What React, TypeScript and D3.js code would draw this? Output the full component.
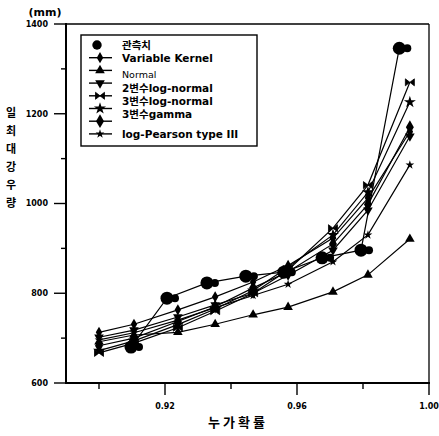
import React from "react";
import * as d3 from "d3";

// cumulative probabilities of the model points
const probs = [0.9, 0.9106, 0.9239, 0.9352, 0.9467, 0.9573, 0.9709, 0.9815, 0.9942];
// observed points
const obsProbs = [0.9097, 0.9206, 0.9327, 0.9445, 0.956, 0.9676, 0.9794, 0.991];
const observed = [680, 789, 823, 838, 847, 879, 896, 1346];

const variableKernel = [713, 731, 763, 792, 825, 862, 923, 1012, 1160];
const normal = [692, 707, 713, 731, 752, 769, 803, 841, 921];
const logNormal2 = [702, 718, 747, 774, 800, 840, 896, 985, 1150];
const logNormal3 = [667, 689, 723, 760, 800, 852, 945, 1041, 1270];
const gamma3 = [672, 694, 730, 765, 806, 858, 930, 1025, 1226];
const extraDiamond = [683, 700, 737, 770, 812, 848, 910, 998, 1170];
const logPearson3 = [696, 712, 740, 768, 795, 820, 870, 930, 1086];

const legendLabels = [
  "관측치",
  "Variable Kernel",
  "Normal",
  "2변수log-normal",
  "3변수log-normal",
  "3변수gamma",
  "",
  "log-Pearson type III",
];

const yTicks = [600, 700, 800, 900, 1000, 1100, 1200, 1300, 1400];
const yLabeled = [600, 800, 1000, 1200, 1400];
const xTicks = [0.9, 0.92, 0.94, 0.96, 0.98, 1.0];
const xLabeled = [0.92, 0.96, 1.0];
const yTitle = ["일", "최", "대", "강", "우", "량"];

type Shape = "diamond" | "triUp" | "triDown" | "bowtie" | "star" | "bigDiamond" | "smallStar" | "dot";

const seriesList: { name: string; values: number[]; shape: Shape }[] = [
  { name: "vk", values: variableKernel, shape: "diamond" },
  { name: "normal", values: normal, shape: "triUp" },
  { name: "ln2", values: logNormal2, shape: "triDown" },
  { name: "ln3", values: logNormal3, shape: "bowtie" },
  { name: "g3", values: gamma3, shape: "star" },
  { name: "dia", values: extraDiamond, shape: "bigDiamond" },
  { name: "lp3", values: logPearson3, shape: "smallStar" },
];

const legendShapes: Shape[] = ["dot", "diamond", "triUp", "triDown", "bowtie", "star", "bigDiamond", "smallStar"];

function markerPath(shape: Shape): string {
  switch (shape) {
    case "diamond":
      return d3.symbol(d3.symbolDiamond, 36)() as string;
    case "bigDiamond":
      return d3.symbol(d3.symbolDiamond, 55)() as string;
    case "triUp":
      return d3.symbol(d3.symbolTriangle, 40)() as string;
    case "triDown":
      return d3.symbol(d3.symbolTriangle, 40)() as string;
    case "bowtie":
      return "M-4.5,-3.5L0,0L-4.5,3.5Z M4.5,-3.5L0,0L4.5,3.5Z";
    case "star":
      return d3.symbol(d3.symbolStar, 45)() as string;
    case "smallStar":
      return d3.symbol(d3.symbolStar, 24)() as string;
    case "dot":
      return d3.symbol(d3.symbolCircle, 70)() as string;
  }
}

function Marker({ shape, x, y }: { shape: Shape; x: number; y: number }) {
  const rot = shape === "triDown" ? " rotate(180)" : "";
  return (
    <path
      d={markerPath(shape)}
      transform={`translate(${x},${y})${rot}`}
      fill="#000"
      stroke={shape === "bowtie" ? "#000" : "none"}
      strokeWidth={0.8}
    />
  );
}

export default function App() {
  const W = 439;
  const H = 436;
  const left = 66;
  const right = 429;
  const top = 24;
  const bottom = 383;

  const x = d3.scaleLinear().domain([0.89, 1.0]).range([left, right]);
  const y = d3.scaleLinear().domain([600, 1400]).range([bottom, top]);

  const line = d3
    .line<[number, number]>()
    .x((d) => x(d[0]))
    .y((d) => y(d[1]));

  const font = "'DejaVu Sans', 'Noto Sans CJK KR', sans-serif";
  const kfont = "'Noto Sans CJK KR', 'DejaVu Sans', sans-serif";

  const legX = 81;
  const legY = 35;
  const rowY = (i: number) => legY + 10 + i * 12.7;
  // label positions: spread a little further than marker rows, as in the reference
  const labelY = (i: number) => {
    if (i === 0) return rowY(0);
    if (i === 1) return rowY(1) + 0.5;
    if (i === 7) return rowY(7);
    return legY + 40 + (i - 2) * 13.2;
  };

  return (
    <svg
      width={W}
      height={H}
      style={{ position: "absolute", left: 0, top: 0, background: "#fff" }}
      fontFamily={font}
    >
      <rect x={0} y={0} width={W} height={H} fill="#fff" />
      {/* frame */}
      <line x1={left} y1={top} x2={right} y2={top} stroke="#000" strokeWidth={1.3} />
      <line x1={right} y1={top} x2={right} y2={bottom} stroke="#000" strokeWidth={1.3} />
      <line x1={left} y1={top - 1} x2={left} y2={bottom + 1} stroke="#000" strokeWidth={2} />
      <line x1={left - 1} y1={bottom} x2={right + 1} y2={bottom} stroke="#000" strokeWidth={2} />

      {/* y ticks */}
      {yTicks.map((t) => {
        const major = yLabeled.includes(t);
        return (
          <g key={"y" + t}>
            <line x1={left - (major ? 12 : 5)} x2={left} y1={y(t)} y2={y(t)} stroke="#000" strokeWidth={1.4} />
            {major && (
              <text x={48} y={y(t)} dy="0.35em" textAnchor="end" fontSize={8} fontWeight="bold">
                {t}
              </text>
            )}
          </g>
        );
      })}
      {/* x ticks */}
      {xTicks.map((t) => {
        const major = xLabeled.includes(t);
        return (
          <g key={"x" + t}>
            <line x1={x(t)} x2={x(t)} y1={bottom} y2={bottom + (major ? 12 : 6)} stroke="#000" strokeWidth={1.4} />
            {major && (
              <text x={x(t)} y={409} textAnchor="middle" fontSize={8} fontWeight="bold">
                {t.toFixed(2)}
              </text>
            )}
          </g>
        );
      })}

      {/* titles */}
      <text x={45} y={16} textAnchor="middle" fontSize={11} fontWeight="bold">
        (mm)
      </text>
      {yTitle.map((c, i) => (
        <text key={c + i} x={11} y={117 + i * 18} textAnchor="middle" fontSize={11} fontWeight="bold" fontFamily={kfont}>
          {c}
        </text>
      ))}
      <text x={238} y={427} textAnchor="middle" fontSize={13} fontWeight="bold" fontFamily={kfont} letterSpacing={3}>
        누가확률
      </text>

      {/* model lines */}
      {seriesList.map((s) => (
        <g key={s.name}>
          <path
            d={line(s.values.map((v, i) => [probs[i], v] as [number, number])) as string}
            fill="none"
            stroke="#000"
            strokeWidth={1.2}
          />
          {s.values.map((v, i) => (
            <Marker key={i} shape={s.shape} x={x(probs[i])} y={y(v)} />
          ))}
        </g>
      ))}

      {/* observed */}
      <path
        d={line(observed.map((v, i) => [obsProbs[i], v] as [number, number])) as string}
        fill="none"
        stroke="#000"
        strokeWidth={1.2}
      />
      {observed.map((v, i) => (
        <g key={"o" + i}>
          <circle cx={x(obsProbs[i])} cy={y(v)} r={6.5} fill="#000" />
          <circle cx={x(obsProbs[i]) + 8} cy={y(v)} r={4} fill="#000" />
        </g>
      ))}

      {/* legend */}
      <rect x={legX} y={legY} width={176} height={111} fill="#fff" stroke="#000" strokeWidth={1.4} />
      {legendShapes.map((sh, i) => (
        <g key={"l" + i}>
          {sh !== "dot" && <line x1={89} x2={112} y1={rowY(i)} y2={rowY(i)} stroke="#000" strokeWidth={1.4} />}
          <Marker shape={sh} x={sh === "dot" ? 97 : 100} y={rowY(i)} />
          {legendLabels[i] && (
            <text
              x={122}
              y={labelY(i)}
              dy="0.35em"
              fontSize={legendLabels[i] === "Normal" ? 9.5 : 10.5}
              fontWeight={legendLabels[i] === "Normal" ? "normal" : "bold"}
              fontFamily={i === 0 ? kfont : font}
            >
              {legendLabels[i]}
            </text>
          )}
        </g>
      ))}
    </svg>
  );
}
